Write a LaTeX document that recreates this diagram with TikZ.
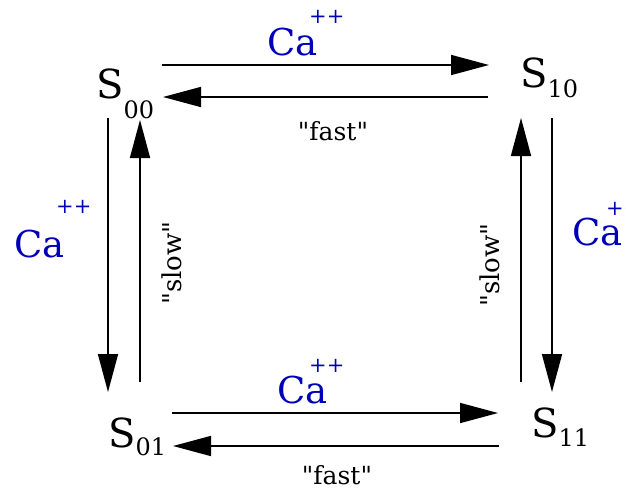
\documentclass[tikz,border=0pt]{standalone}
\usepackage{fontspec}
\setmainfont{DejaVu Serif}
\usetikzlibrary{arrows.meta}
\definecolor{cablue}{RGB}{0,0,185}
% state label: S with a lowered index
\newcommand\statename[2]{S\raisebox{-#2pt}{\fontsize{24}{24}\selectfont#1}}
\newcommand\qt[1]{\textquotedbl#1\textquotedbl}
\begin{document}
\begin{tikzpicture}[x=1pt,y=-1pt,
  rxn/.style={line width=1.6pt,-{Triangle[length=38pt,width=20pt]}},
  lab/.style={inner sep=0pt,anchor=base west,font=\fontsize{40}{40}\selectfont},
  ion/.style={inner sep=0pt,anchor=base west,text=cablue,font=\fontsize{37}{37}\selectfont},
  chg/.style={inner sep=0pt,anchor=base west,text=cablue,font=\fontsize{21}{21}\selectfont},
  rate/.style={inner sep=0pt,font=\fontsize{26}{26}\selectfont}]
\useasboundingbox (0,0) rectangle (626,490);
% states
\node[lab] (s00) at (96,98) {\statename{00}{20}};
\node[lab] (s10) at (520,87) {\statename{10}{10}};
\node[lab] (s01) at (108,447) {\statename{01}{8}};
\node[lab] (s11) at (531,437) {\statename{11}{9}};
% arrow ends
\coordinate (t1) at (162,65); \coordinate (t2) at (489,65);
\coordinate (t3) at (488,97); \coordinate (t4) at (163,97);
\coordinate (b1) at (172,413); \coordinate (b2) at (498,413);
\coordinate (b3) at (499,446); \coordinate (b4) at (173,446);
\coordinate (l1) at (108,118); \coordinate (l2) at (108,392);
\coordinate (l3) at (140,382); \coordinate (l4) at (140,120);
\coordinate (r1) at (552,118); \coordinate (r2) at (552,392);
\coordinate (r3) at (521,382); \coordinate (r4) at (521,118);
\draw[rxn] (t1) -- (t2); \draw[rxn] (t3) -- (t4);
\draw[rxn] (b1) -- (b2); \draw[rxn] (b3) -- (b4);
\draw[rxn] (l1) -- (l2); \draw[rxn] (l3) -- (l4);
\draw[rxn] (r1) -- (r2); \draw[rxn] (r3) -- (r4);
% binding labels
\node[ion] (catop) at (267,55) {Ca};
\node[chg] (catopc) at (309,23) {++};
\node[ion] (cabot) at (277,403) {Ca};
\node[chg] (cabotc) at (309,372) {++};
\node[ion] (caleft) at (14,257) {Ca};
\node[chg] (caleftc) at (56,213) {++};
\node[ion] (caright) at (572,245) {Ca};
\node[chg] (carightc) at (606,215) {++};
% rates
\node[rate,anchor=base,font=\fontsize{25}{25}\selectfont] (fasttop) at (333,140) {\qt{fast}};
\node[rate,anchor=base,font=\fontsize{25}{25}\selectfont] (fastbot) at (337,484) {\qt{fast}};
\node[rate,rotate=90] (slowleft) at (172,263) {\qt{slow}};
\node[rate,rotate=90] (slowright) at (490,265) {\qt{slow}};
\end{tikzpicture}
\end{document}
